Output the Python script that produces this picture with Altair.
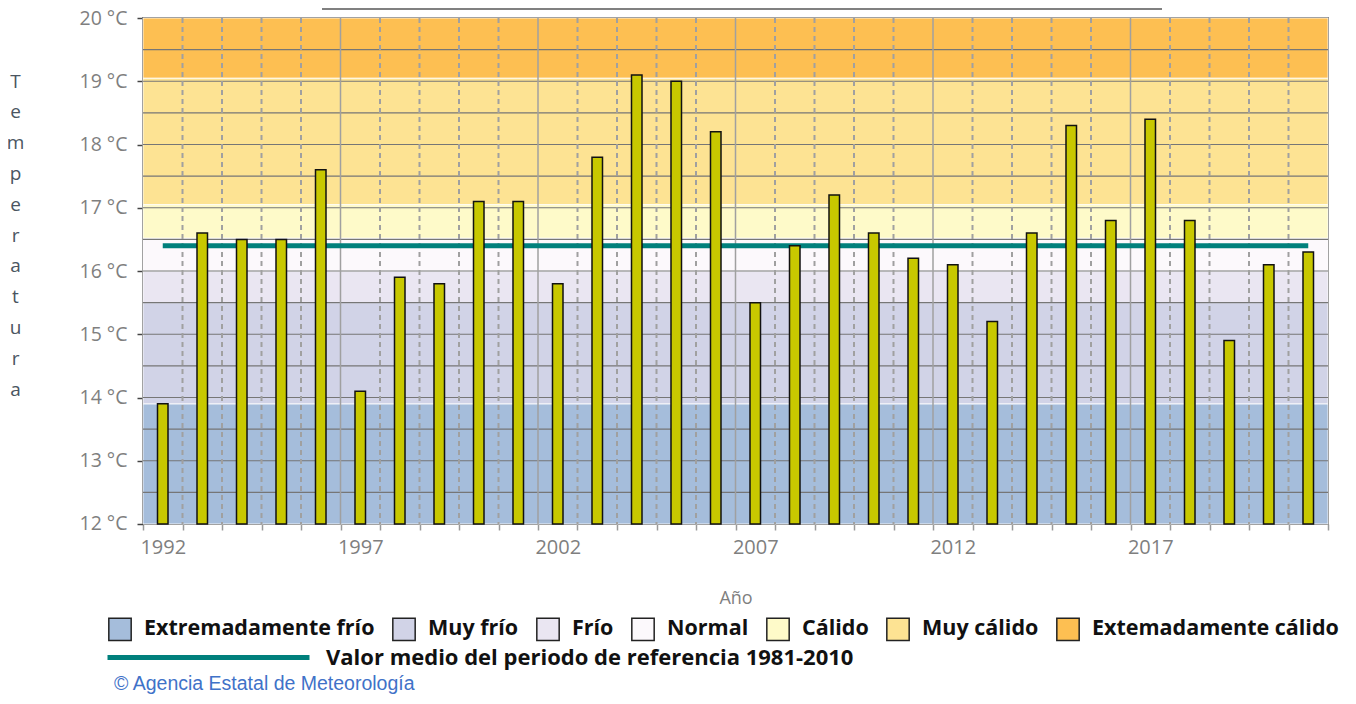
import altair as alt
import pandas as pd

# ---- data ----
years = list(range(1992, 2022))
temps = [13.9, 16.6, 16.5, 16.5, 17.6, 14.1, 15.9, 15.8, 17.1, 17.1,
         15.8, 17.8, 19.1, 19.0, 18.2, 15.5, 16.4, 17.2, 16.6, 16.2,
         16.1, 15.2, 16.6, 18.3, 16.8, 18.4, 16.8, 14.9, 16.1, 16.3]
ref_value = 16.4
ref_label = "Valor medio del periodo de referencia 1981-2010"

band_names = ["Extremadamente frío", "Muy frío", "Frío", "Normal",
              "Cálido", "Muy cálido", "Extemadamente cálido"]
band_lo = [12.0, 13.9, 15.5, 16.0, 16.52, 17.05, 19.05]
band_hi = [13.9, 15.5, 16.0, 16.52, 17.05, 19.05, 20.0]
band_colors = ["#a5bddb", "#d1d3e7", "#eae6f2", "#fcf9fc",
               "#fefac9", "#fde393", "#fdbf52"]

y_grid = [12.5, 13.0, 13.5, 14.0, 14.5, 15.0, 15.5, 16.0, 16.5, 17.0,
          17.5, 18.0, 18.5, 19.0, 19.5]
x_edges = [y - 0.5 for y in years] + [2021.5]
x_grid_solid = [1996.5, 2001.5, 2006.5, 2011.5, 2016.5]
x_grid_dash = [v for v in x_edges[1:-1] if v not in x_grid_solid]

W, H = 1185, 506
FONT = "Open Sans"
GRAY = "#7f7f7f"

bars_df = pd.DataFrame({"year": years, "temp": temps})
ref_df = pd.DataFrame({"year": years, "temp": [ref_value] * len(years),
                       "serie": [ref_label] * len(years)})
bands_df = pd.DataFrame({"cat": band_names, "lo": band_lo, "hi": band_hi})

xscale = alt.Scale(domain=[1991.5, 2021.5], nice=False, zero=False, padding=0)
yscale = alt.Scale(domain=[12, 20], nice=False, zero=False, padding=0)

x_axis = alt.Axis(
    values=x_edges, title="Año", grid=False, domain=False,
    tickSize=6, tickColor="#9a9a9a", tickWidth=1.5,
    labelExpr="((datum.value - 1991.5) % 5 == 0 && datum.value < 2021) ? toString(datum.value + 0.5) : ''",
    labelOffset=W / 30 / 2, labelFlush=False, labelOverlap=False, labelBound=False,
    labelFont=FONT, labelFontSize=20, labelColor=GRAY, labelPadding=7,
    titleFont=FONT, titleFontSize=18, titleColor=GRAY, titleFontWeight="normal",
    titlePadding=32,
)
y_axis = alt.Axis(
    values=[12, 13, 14, 15, 16, 17, 18, 19, 20], grid=False, domain=False,
    tickSize=6, tickColor="#444444", tickWidth=1.5,
    labelExpr="datum.value + ' °C'", labelOverlap=False,
    labelFlush=True, labelFlushOffset=9,
    labelFont=FONT, labelFontSize=19.5, labelColor=GRAY, labelPadding=10,
    title=list("Temperatura"), titleAngle=0, titleAlign="center",
    titleBaseline="top", titleX=-128, titleY=54, titleLineHeight=30.8,
    titleFont=FONT, titleFontSize=19, titleColor="#4a5561", titleFontWeight=500,
)


def X(field, **kw):
    return alt.X(field, scale=xscale, axis=x_axis, **kw)


def Y(field, **kw):
    return alt.Y(field, scale=yscale, axis=y_axis, **kw)


bands = alt.Chart(bands_df).mark_rect(
    stroke="white", strokeWidth=1, strokeOpacity=0.8).encode(
    x=alt.datum(1991.5, scale=xscale, axis=x_axis, type="quantitative"),
    x2=alt.datum(2021.5),
    y=Y("lo:Q"),
    y2="hi:Q",
    fill=alt.Fill("cat:N",
                  scale=alt.Scale(domain=band_names, range=band_colors),
                  legend=alt.Legend(orient="none", direction="horizontal",
                                    legendX=-35, legendY=599, title=None,
                                    symbolType="square", symbolSize=500,
                                    symbolStrokeColor="#222222", symbolStrokeWidth=1.5,
                                    labelFont=FONT, labelFontSize=21.5,
                                    labelFontWeight="bold", labelColor="#111111",
                                    labelOffset=12, columnPadding=14,
                                    labelLimit=1000)),
)

hgrid = alt.Chart(pd.DataFrame({"v": y_grid})).mark_rule(
    color="#767676", strokeWidth=1.2).encode(y=Y("v:Q"))
vgrid_solid = alt.Chart(pd.DataFrame({"v": x_grid_solid})).mark_rule(
    color="#a0a0a0", strokeWidth=1.5).encode(x=X("v:Q"))
vgrid_dash = alt.Chart(pd.DataFrame({"v": x_grid_dash})).mark_rule(
    color="#a0a0a0", strokeWidth=2, strokeDash=[5, 4]).encode(x=X("v:Q"))

ref_line = alt.Chart(ref_df).mark_line(strokeWidth=5, strokeCap="butt").encode(
    x=X("year:Q"),
    y=Y("temp:Q"),
    stroke=alt.Stroke("serie:N",
                      scale=alt.Scale(domain=[ref_label], range=["#00807c"]),
                      legend=alt.Legend(orient="none", legendX=-38, legendY=536,
                                        title=None, symbolType="stroke",
                                        symbolSize=40800, symbolStrokeWidth=5,
                                        labelFont=FONT, labelFontSize=22,
                                        labelFontWeight="bold", labelColor="#111111",
                                        labelOffset=14, labelLimit=1000)),
)

bars = alt.Chart(bars_df).mark_bar(
    size=10.5, color="#c8c800", stroke="#111111", strokeWidth=1.5).encode(
    x=X("year:Q"),
    y=Y("temp:Q"),
    y2=alt.datum(12),
)

credit = alt.Chart(pd.DataFrame({"t": ["© Agencia Estatal de Meteorología"]})).mark_text(
    align="left", baseline="alphabetic", font="Liberation Sans", fontSize=19.5,
    color="#3f72c8").encode(x=alt.value(-29), y=alt.value(672), text="t:N")

top_bar = alt.Chart(pd.DataFrame({"t": [1]})).mark_rect(color="#808080").encode(
    x=alt.value(179), x2=alt.value(1019), y=alt.value(-12), y2=alt.value(-8))

chart = alt.layer(bands, hgrid, vgrid_solid, vgrid_dash, ref_line, bars,
                  credit, top_bar).resolve_scale(
    fill="independent", stroke="independent").properties(
    width=W, height=H,
    autosize=alt.AutoSizeParams(type="none"),
    padding={"left": 135, "top": 10, "right": 12, "bottom": 170},
).configure_view(stroke="#333333", strokeWidth=1.5)

chart.save("out.html", embed_options={"renderer": "svg", "actions": False})
